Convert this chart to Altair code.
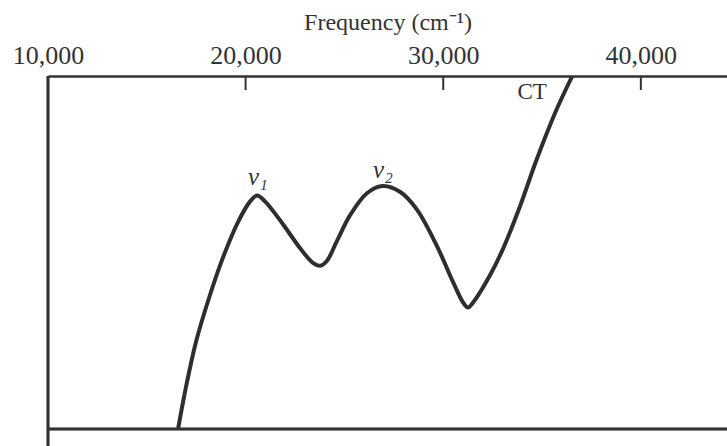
import altair as alt
import pandas as pd

# Spectrum trace (frequency in cm^-1, relative absorbance in arbitrary units)
freq = [16580, 17030, 17500, 18100, 18810, 19620, 20220, 20580, 20980, 21890,
        22750, 23410, 23770, 24120, 24630, 25280, 26140, 26950, 27810, 28670,
        29690, 30500, 30990, 31250, 31510, 32400, 33030, 33890, 34700, 35660, 36520]
absorb = [0, 46.6, 88.0, 128.0, 169.1, 207.2, 227.4, 233.5, 227.6, 204.8,
          181.0, 166.1, 163.2, 168.3, 188.4, 213.6, 235.8, 243.0, 237.2, 219.4,
          182.6, 146.8, 127.0, 121.5, 126.5, 155.0, 180.4, 223.0, 268.0, 316.0, 352.5]

tick_values = [10000, 20000, 30000, 40000]
inner_ticks = [20000, 30000, 40000]

label_text = ["\u03bd\u2081", "\u03bd\u2082", "CT"]
label_freq = [20620, 26950, 34500]
label_abs = [252, 259, 337]

df = pd.DataFrame({"freq": freq, "abs": absorb})
labels = pd.DataFrame({"t": label_text, "freq": label_freq, "abs": label_abs})
ticks = pd.DataFrame({"freq": inner_ticks})

W, H = 679, 353
INK = "#333333"

xscale = alt.Scale(domain=[10000, 44360], nice=False, zero=False)
yscale = alt.Scale(domain=[0, 353], nice=False, zero=False)

xaxis = alt.Axis(orient="top", values=tick_values, format=",.0f", title="Frequency (cm\u207b\u00b9)",
                 labelFont="Liberation Serif", labelFontSize=26, labelColor=INK,
                 labelFlush=False, labelPadding=8, ticks=False, grid=False,
                 domain=True, domainColor=INK, domainWidth=2.5,
                 titleFont="Liberation Serif", titleFontSize=24, titleFontWeight="normal",
                 titleColor=INK, titlePadding=8)

curve = alt.Chart(df).mark_line(color="#2e2e2e", strokeWidth=4, interpolate="catmull-rom", clip=True).encode(
    x=alt.X("freq:Q", scale=xscale, axis=xaxis),
    y=alt.Y("abs:Q", scale=yscale, axis=None),
)

tick_marks = alt.Chart(ticks).mark_rule(color=INK, strokeWidth=2).encode(
    x=alt.X("freq:Q", scale=xscale),
    y=alt.value(0),
    y2=alt.value(14),
)

left_border = alt.Chart(ticks).mark_rule(color=INK, strokeWidth=2.5, clip=False).encode(
    x=alt.value(0), y=alt.value(0), y2=alt.value(370)
)
bottom_border = alt.Chart(ticks).mark_rule(color=INK, strokeWidth=2.5).encode(
    x=alt.value(0), x2=alt.value(W), y=alt.value(H)
)

greek = alt.Chart(labels.iloc[:2]).mark_text(font="Liberation Serif", fontSize=25, fontStyle="italic",
                                               color=INK, baseline="middle", align="center").encode(
    x=alt.X("freq:Q", scale=xscale), y=alt.Y("abs:Q", scale=yscale), text="t:N"
)
ct = alt.Chart(labels.iloc[2:]).mark_text(font="Liberation Serif", fontSize=23,
                                            color=INK, baseline="middle", align="center").encode(
    x=alt.X("freq:Q", scale=xscale), y=alt.Y("abs:Q", scale=yscale), text="t:N"
)

chart = alt.layer(curve, tick_marks, left_border, bottom_border, greek, ct).properties(
    width=W, height=H,
    autosize=alt.AutoSizeParams(type="none"),
    padding={"left": 48, "top": 76, "right": 0, "bottom": 17},
    background="white",
).configure_view(stroke=None)

chart.save("out.html", embed_options={"renderer": "svg", "actions": False})
